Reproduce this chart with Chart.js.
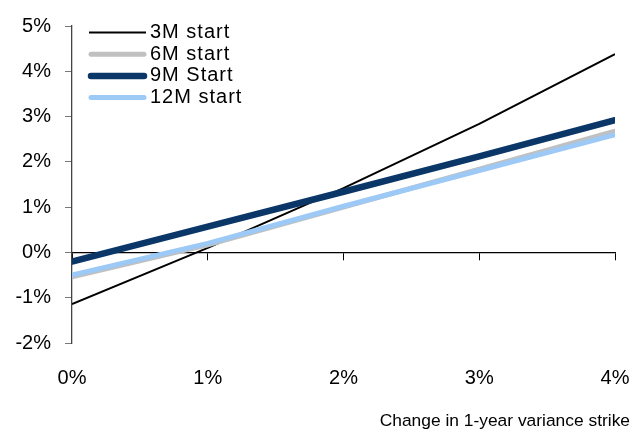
<!DOCTYPE html>
<html><head><meta charset="utf-8">
<script src="https://cdn.jsdelivr.net/npm/chart.js@4/dist/chart.umd.min.js"></script>
<style>html,body{margin:0;padding:0;background:#fff}#wrap{width:633px;height:431px}</style>
</head><body><div id="wrap"><canvas id="c" width="633" height="431"></canvas></div>
<script>
const strikeChange = [0, 1, 2, 3, 4];
const start3M  = [-1.14, 0.10, 1.42, 2.84, 4.38];
const start6M  = [-0.54, 0.17, 1.00, 1.84, 2.68];
const start9M  = [-0.20, 0.57, 1.34, 2.12, 2.92];
const start12M = [-0.50, 0.20, 1.02, 1.81, 2.60];
const seriesNames = ['3M start', '6M start', '9M Start', '12M start'];
const xTitle = 'Change in 1-year variance strike';

const FONT = "'Liberation Sans', Arial, sans-serif";
function pts(v){ return strikeChange.map((x,i)=>({x:x, y:v[i]})); }
const colors = ['#000000', '#c0c0c0', '#0b3768', '#9cc9f5'];
const widths = [2, 5, 6.5, 5];
const all = [start3M, start6M, start9M, start12M];

const datasets = all.map((v,i)=>({
  label: seriesNames[i], data: pts(v), showLine: true, pointRadius: 0,
  borderColor: colors[i], backgroundColor: colors[i], borderWidth: widths[i],
  borderCapStyle: i===0 ? 'butt' : 'round', borderJoinStyle: 'round',
  order: 4 - i, xAxisID: 'x', yAxisID: 'y', tension: 0
}));

const extras = {
  id: 'extras',
  afterDraw(chart){
    const ctx = chart.ctx;
    ctx.save();
    for (let i = 0; i < seriesNames.length; i++){
      const ly = 32.5 + 21.7 * i;
      ctx.beginPath();
      ctx.strokeStyle = colors[i];
      ctx.lineWidth = widths[i];
      ctx.lineCap = i===0 ? 'butt' : 'round';
      ctx.moveTo(i===0 ? 89 : 91, ly);
      ctx.lineTo(i===0 ? 146 : 144, ly);
      ctx.stroke();
      ctx.fillStyle = '#000';
      ctx.font = '20px ' + FONT;
      ctx.letterSpacing = '1px';
      ctx.textAlign = 'left';
      ctx.textBaseline = 'alphabetic';
      ctx.fillText(seriesNames[i], 150, ly + 5.5);
    }
    ctx.letterSpacing = '0px';
    ctx.font = '17.4px ' + FONT;
    ctx.textAlign = 'right';
    ctx.textBaseline = 'alphabetic';
    ctx.fillStyle = '#000';
    ctx.fillText(xTitle, 630, 426);
    ctx.restore();
  }
};

new Chart(document.getElementById('c'), {
  type: 'scatter',
  data: { datasets },
  options: {
    responsive: false, animation: false, devicePixelRatio: 1,
    layout: { padding: { left: 0, top: 24, right: 0, bottom: 0 } },
    plugins: { legend: { display: false }, tooltip: { enabled: false } },
    scales: {
      x: {
        type: 'linear', position: 'bottom', min: 0, max: 4,
        afterFit: s => { s.height = 88; s.paddingRight = 18; s.paddingLeft = 0; },
        grid: { display: false, drawTicks: false },
        border: { display: false },
        ticks: { stepSize: 1, padding: 23, color: '#000', font: { family: FONT, size: 20 },
                 callback: v => v + '%', maxRotation: 0 }
      },
      x0: {
        type: 'linear', position: { y: 0 }, min: 0, max: 4,
        grid: { drawOnChartArea: false, drawTicks: true, tickLength: 7, color: '#000', lineWidth: 1 },
        border: { display: true, color: '#000', width: 1.3 },
        ticks: { stepSize: 1, display: false }
      },
      y: {
        type: 'linear', position: 'left', min: -2, max: 5,
        afterFit: s => { s.width = 72; },
        grid: { drawOnChartArea: false, drawTicks: true, tickLength: 7, color: '#777' },
        border: { display: true, color: '#444', width: 1.3 },
        ticks: { stepSize: 1, padding: 14, color: '#000', font: { family: FONT, size: 20 },
                 callback: v => v + '%' }
      }
    }
  },
  plugins: [extras]
});
</script></body></html>
